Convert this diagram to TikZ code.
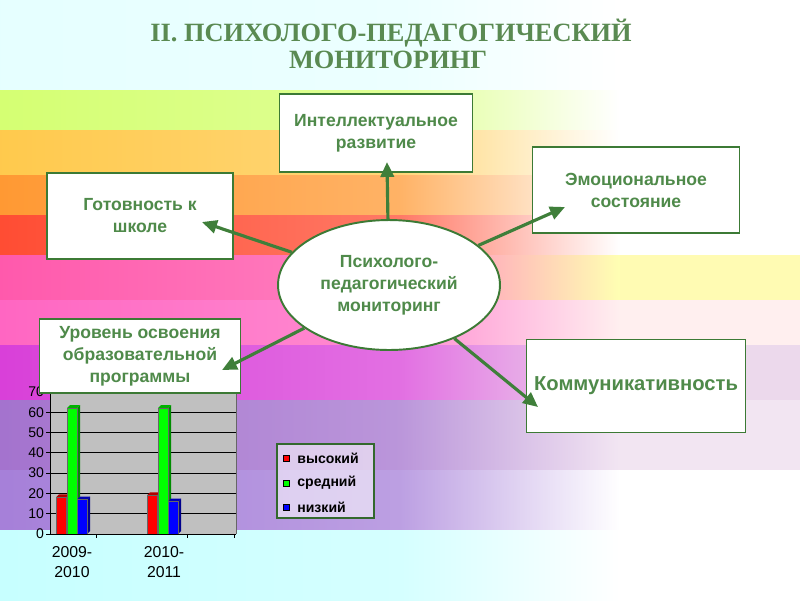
\documentclass[tikz,border=0pt]{standalone}
\usepackage{fontspec}
\setmainfont{Liberation Serif}
\setsansfont{Liberation Sans}
\usetikzlibrary{arrows.meta,shapes.geometric}

\definecolor{ttl}{HTML}{5A8A52}
\definecolor{txt}{HTML}{4F8A4A}
\definecolor{frm}{HTML}{3C7A35}
\definecolor{arr}{HTML}{3F7F3A}
\definecolor{plot}{HTML}{C0C0C0}

\newcommand\chartbar[3]{%
  \pgfmathsetmacro\ytop{534-2.03*#2}
  \fill[#3!55!black] (#1+10,534) -- (#1+13,531) -- (#1+13,\ytop-3) -- (#1+10,\ytop) -- cycle;
  \fill[#3!70!black] (#1,\ytop) -- (#1+3,\ytop-3) -- (#1+13,\ytop-3) -- (#1+10,\ytop) -- cycle;
  \filldraw[fill=#3,draw=black!60,line width=0.2pt] (#1,534) rectangle (#1+10,\ytop);
}

\begin{document}
\begin{tikzpicture}[x=0.02cm,y=-0.02cm,
	box/.style={draw=frm,line width=1.1pt,fill=white,align=center,text=txt,
		font=\sffamily\bfseries\fontsize{10}{12.5}\selectfont},
	link/.style={draw=arr,line width=1.8pt,-{Triangle[length=8.5pt,width=7.5pt]}},
	tick/.style={font=\sffamily\fontsize{8}{9}\selectfont,anchor=east,inner sep=1pt},
	year/.style={font=\sffamily\fontsize{9}{11}\selectfont,align=center},
	key/.style={font=\sffamily\bfseries\fontsize{8}{9}\selectfont,anchor=west,inner sep=0pt}]
	\useasboundingbox (0,0) rectangle (800,600);

	\foreach \ya/\yb/\ca/\cb in {0/90/{cyan!10}/white, 90/130/{yellow!70!green!55}/white,
		130/175/{orange!60!yellow!70}/white, 175/215/{orange!80}/white,
		215/255/{red!75!orange!80}/white, 255/300/{magenta!50!red!65}/{yellow!30},
		300/345/{magenta!60!red!60}/{pink!25}, 345/400/{magenta!60!violet!75}/{violet!15},
		400/470/{violet!70!blue!55}/{violet!10}, 470/530/{blue!40!violet!50}/white,
		530/600/{cyan!22}/white}{
		\colorlet{band}{\ca}
		\shade[left color=band,right color=band!75!white] (0,\ya) rectangle (400,\yb);
		\shade[left color=band!75!white,right color=\cb] (400,\ya) rectangle (620,\yb);
		\fill[\cb] (620,\ya) rectangle (800,\yb);
	}

	\node[font=\bfseries\fontsize{15}{17}\selectfont,text=ttl] (T1) at (391,33) {II. ПСИХОЛОГО-ПЕДАГОГИЧЕСКИЙ};
	\node[font=\bfseries\fontsize{15}{17}\selectfont,text=ttl] (T2) at (388,60) {МОНИТОРИНГ};

	\fill[plot] (50,391) rectangle (236,534);
	\foreach \k in {1,...,7}
		\draw[black,line width=0.5pt] (50,534-20.3*\k) -- (236,534-20.3*\k);
	\draw[black!60] (236,391) -- (236,534);
	\chartbar{56}{18}{red}
	\chartbar{67}{62}{green}
	\chartbar{77}{17}{blue}
	\chartbar{147}{19}{red}
	\chartbar{158}{62}{green}
	\chartbar{168}{16}{blue}
	\draw[black,line width=0.5pt] (50,391) -- (50,534) -- (236,534);
	\foreach \k in {0,...,7}{
		\draw[black,line width=0.5pt] (46,534-20.3*\k) -- (50,534-20.3*\k);
		\node[tick] (Y\k) at (46,534-20.3*\k) {\the\numexpr\k*10\relax};
	}
	\foreach \x in {96,187,234}
		\draw[black,line width=0.5pt] (\x,534) -- (\x,538);
	\node[year] (X1) at (72,562) {2009-\\2010};
	\node[year] (X2) at (164,562) {2010-\\2011};

	\filldraw[draw=frm!85!black,line width=1.6pt,fill=white,fill opacity=0.55] (277,444) rectangle (374,518);
	\foreach \c/\t/\y [count=\i] in {red/высокий/458,green/средний/483,blue/низкий/507}{
		\filldraw[fill=\c,draw=black,line width=0.4pt] (283,\y-3) rectangle (289,\y+3);
		\node[key] (L\i) at (297,\y) {\t};
	}

	\node[box,minimum width=3.86cm,minimum height=1.56cm] (I) at (376,133) {Интеллектуальное\\развитие};
	\node[box,minimum width=3.72cm,minimum height=1.72cm] (G) at (140,216) {Готовность к\\школе};
	\node[box,minimum width=4.14cm,minimum height=1.72cm] (M) at (636,190) {Эмоциональное\\состояние};
	\node[box,minimum width=4.02cm,minimum height=1.48cm] (U) at (140,356) {Уровень освоения\\образовательной\\программы};
	\node[box,minimum width=4.38cm,minimum height=1.86cm,
		font=\sffamily\bfseries\fontsize{11.5}{14}\selectfont] (K) at (636,386) {Коммуникативность};
	\node[box,ellipse,minimum width=4.44cm,minimum height=2.6cm] (P) at (389,285)
		{Психолого-\\педагогический\\мониторинг};

	\coordinate (tI) at (387,162);
	\coordinate (tG) at (202,222);
	\coordinate (tU) at (222,370);
	\coordinate (tM) at (565,207);
	\coordinate (tK) at (538,407);

	\draw[link] (P) -- (tI);
	\draw[link] (P) -- (tG);
	\draw[link] (P) -- (tU);
	\draw[link] (P) -- (tM);
	\draw[link] (P) -- (tK);
\end{tikzpicture}
\end{document}
